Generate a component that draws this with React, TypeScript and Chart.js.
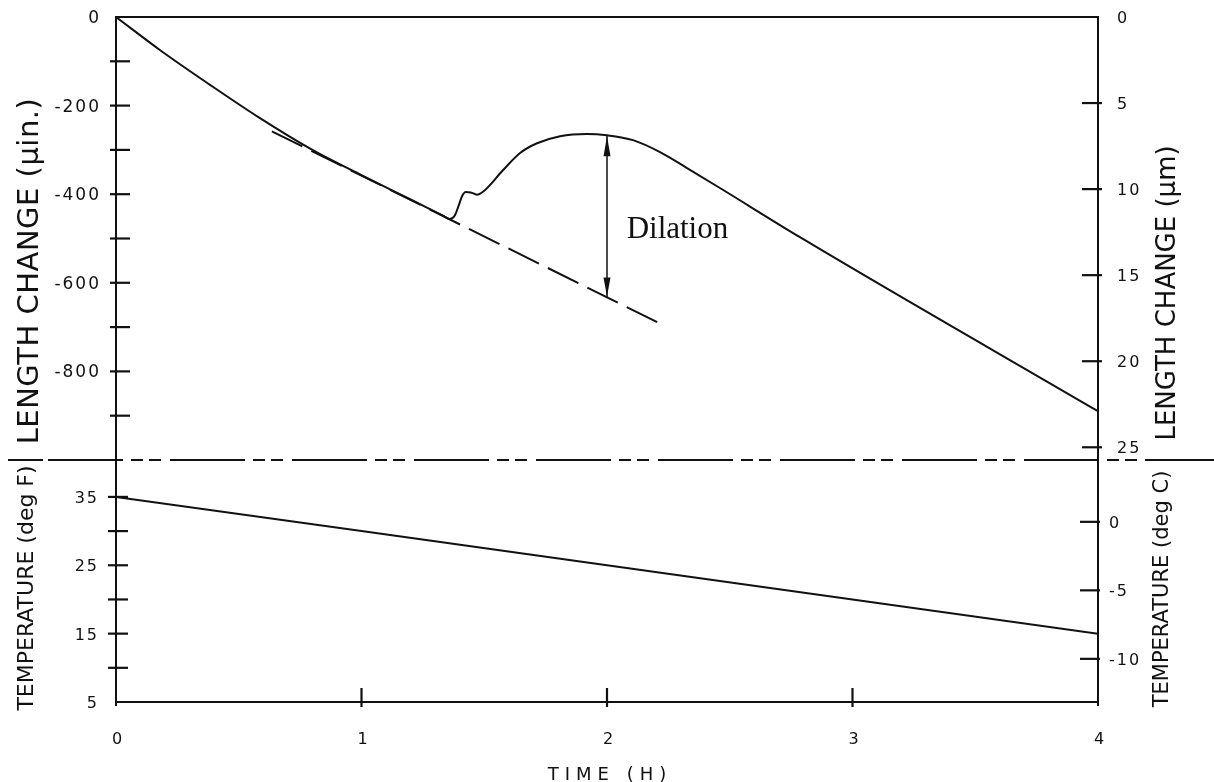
import React, { useEffect, useRef } from "react";
import { Chart, registerables } from "chart.js";

Chart.register(...registerables);

// ---- data ----
const TIME_H = [0, 0.18, 0.38, 0.58, 0.8, 1.0, 1.2, 1.33, 1.36, 1.38, 1.395, 1.41, 1.425, 1.445, 1.47, 1.5, 1.576, 1.646, 1.715, 1.809, 1.919, 2.0, 2.106, 2.216, 2.326, 2.46, 2.786, 4.0];
const LENGTH_UIN = [0, -75, -152, -226, -300, -357, -412, -448, -456, -448, -427, -404, -395, -396, -401, -392, -346, -307, -285, -269, -264, -267, -278, -305, -341, -386, -497, -890];

const TANGENT_TIME_H = [0.635, 2.216];
const TANGENT_UIN = [-258, -692];

const DILATION_TIME_H = [2.0, 2.0];
const DILATION_UIN = [-267, -633];
const DILATION_LABEL = "Dilation";
const DILATION_LABEL_T = 2.08;
const DILATION_LABEL_UIN = -499;

const TEMP_TIME_H = [0, 1, 2, 3, 4];
const TEMP_F = [35, 30, 25, 20, 15];

// ---- axes / ticks ----
const X_TICK_LABELS = [0, 1, 2, 3, 4];
const X_TICK_MARKS = [1, 2, 3];
const LEN_TICK_MARKS = [-100, -200, -300, -400, -500, -600, -700, -800, -900];
const LEN_TICK_LABELS = [0, -200, -400, -600, -800];
const UM_TICK_MARKS = [5, 10, 15, 20, 25];
const UM_TICK_LABELS = [0, 5, 10, 15, 20, 25];
const F_TICK_MARKS = [35, 30, 25, 20, 15, 10];
const F_TICK_LABELS = [35, 25, 15, 5];
const C_TICK_MARKS = [0, -5, -10];
const C_TICK_LABELS = [0, -5, -10];

const LEN_PANEL_BOTTOM = -1000; // µin. value at the panel divider
const PANEL_SPLIT = 0.6467; // share of plot height used by the length panel

const TITLE_LEN_LEFT = "LENGTH CHANGE (µin.)";
const TITLE_LEN_RIGHT = "LENGTH CHANGE (µm)";
const TITLE_T_LEFT = "TEMPERATURE (deg F)";
const TITLE_T_RIGHT = "TEMPERATURE (deg C)";
const TITLE_X = "TIME (H)";

const INK = "#111";
const SANS = '"DejaVu Sans", "Liberation Sans", sans-serif';
const SERIF = '"Liberation Serif", "DejaVu Serif", serif';

function pts(xs: number[], ys: number[]) {
  return xs.map((x, i) => ({ x, y: ys[i] }));
}

const paperPlugin = {
  id: "paper",
  afterDraw(chart: any) {
    const { ctx, chartArea: a, scales } = chart;
    const sx = scales.x, yL = scales.yLen, yU = scales.yUm, yF = scales.yF, yC = scales.yC;
    const line = (x1: number, y1: number, x2: number, y2: number) => {
      ctx.beginPath();
      ctx.moveTo(x1, y1);
      ctx.lineTo(x2, y2);
      ctx.stroke();
    };
    const text = (s: string, x: number, y: number, font: string, align: CanvasTextAlign, ls = 0) => {
      ctx.font = font;
      (ctx as any).letterSpacing = ls + "px";
      ctx.textAlign = align;
      ctx.textBaseline = "alphabetic";
      ctx.fillText(s, x, y);
      (ctx as any).letterSpacing = "0px";
    };
    const vtext = (s: string, x: number, y: number, font: string, ls = 0) => {
      ctx.save();
      ctx.translate(x, y);
      ctx.rotate(-Math.PI / 2);
      text(s, 0, 0, font, "center", ls);
      ctx.restore();
    };

    ctx.save();
    ctx.strokeStyle = INK;
    ctx.fillStyle = INK;
    ctx.lineCap = "butt";

    // frame
    ctx.lineWidth = 2;
    line(a.left, a.top, a.right, a.top);
    line(a.left, a.top - 1, a.left, a.bottom + 4);
    line(a.right, a.top - 1, a.right, a.bottom + 4);
    line(a.left - 1, a.bottom, a.right + 1, a.bottom);

    // panel divider (dash-dot-dot)
    const yd = yL.getPixelForValue(LEN_PANEL_BOTTOM);
    ctx.lineWidth = 2;
    line(8, yd, 43, yd);
    ctx.setLineDash([75, 8, 12, 6, 12, 9]);
    line(48, yd, 1140, yd);
    ctx.setLineDash([]);
    line(1145, yd, chart.width, yd);

    // tick marks
    ctx.lineWidth = 2.2;
    LEN_TICK_MARKS.forEach((v) => {
      const y = yL.getPixelForValue(v);
      line(a.left - 6, y, a.left + 14, y);
    });
    F_TICK_MARKS.forEach((v) => {
      const y = yF.getPixelForValue(v);
      line(a.left - 8, y, a.left + 12, y);
    });
    UM_TICK_MARKS.forEach((v) => {
      const y = yU.getPixelForValue(v);
      line(a.right - 16, y, a.right + 4, y);
    });
    C_TICK_MARKS.forEach((v) => {
      const y = yC.getPixelForValue(v);
      line(a.right - 18, y, a.right + 2, y);
    });
    X_TICK_MARKS.forEach((v) => {
      const x = sx.getPixelForValue(v);
      line(x, a.bottom - 14, x, a.bottom + 5);
    });

    // tick labels
    const f17 = "17px " + SANS;
    const f16 = "16px " + SANS;
    LEN_TICK_LABELS.forEach((v) => {
      text(String(v), a.left - 15, yL.getPixelForValue(v) + 6, f17, "right", 2);
    });
    F_TICK_LABELS.forEach((v) => {
      text(String(v), a.left - 17, yF.getPixelForValue(v) + 6, f16, "right", 2);
    });
    UM_TICK_LABELS.forEach((v) => {
      text(String(v), a.right + 19, yU.getPixelForValue(v) + 6, f16, "left", 2);
    });
    C_TICK_LABELS.forEach((v) => {
      text(String(v), a.right + 11, yC.getPixelForValue(v) + 6, f16, "left", 2);
    });
    X_TICK_LABELS.forEach((v) => {
      text(String(v), sx.getPixelForValue(v) + 1, a.bottom + 42, f16, "center", 0);
    });

    // axis titles
    vtext(TITLE_LEN_LEFT, 38, 271, "29px " + SANS, 0.5);
    vtext(TITLE_T_LEFT, 33, 588, "22px " + SANS, 0);
    vtext(TITLE_LEN_RIGHT, 1175, 293, "26px " + SANS, 0);
    vtext(TITLE_T_RIGHT, 1168, 589, "21px " + SANS, 0);
    text(TITLE_X, (a.left + a.right) / 2 + 3, 780, "18px " + SANS, "center", 6);

    // dilation annotation
    text(DILATION_LABEL, sx.getPixelForValue(DILATION_LABEL_T), yL.getPixelForValue(DILATION_LABEL_UIN), "31px " + SERIF, "left", 0);
    const ax = sx.getPixelForValue(DILATION_TIME_H[0]);
    const yTop = yL.getPixelForValue(DILATION_UIN[0]);
    const yBot = yL.getPixelForValue(DILATION_UIN[1]);
    ctx.beginPath();
    ctx.moveTo(ax, yTop + 1);
    ctx.lineTo(ax - 3.5, yTop + 21);
    ctx.lineTo(ax + 3.5, yTop + 21);
    ctx.closePath();
    ctx.fill();
    ctx.beginPath();
    ctx.moveTo(ax, yBot - 1);
    ctx.lineTo(ax - 3.5, yBot - 20);
    ctx.lineTo(ax + 3.5, yBot - 20);
    ctx.closePath();
    ctx.fill();

    ctx.restore();
  },
};

export default function App() {
  const ref = useRef<HTMLCanvasElement>(null);

  useEffect(() => {
    document.body.style.margin = "0";
    document.body.style.overflow = "hidden";
    const canvas = ref.current;
    if (!canvas) return;
    const chart = new Chart(canvas, {
      type: "line",
      data: {
        datasets: [
          {
            label: "Length change",
            data: pts(TIME_H, LENGTH_UIN),
            yAxisID: "yLen",
            borderColor: INK,
            borderWidth: 2,
            pointRadius: 0,
            cubicInterpolationMode: "monotone",
            borderCapStyle: "round",
            borderJoinStyle: "round",
          },
          {
            label: "Extrapolated contraction",
            data: pts(TANGENT_TIME_H, TANGENT_UIN),
            yAxisID: "yLen",
            borderColor: INK,
            borderWidth: 2,
            borderDash: [34, 10],
            pointRadius: 0,
            tension: 0,
          },
          {
            label: "Dilation",
            data: pts(DILATION_TIME_H, DILATION_UIN),
            yAxisID: "yLen",
            borderColor: INK,
            borderWidth: 1.5,
            pointRadius: 0,
            tension: 0,
          },
          {
            label: "Temperature",
            data: pts(TEMP_TIME_H, TEMP_F),
            yAxisID: "yF",
            borderColor: INK,
            borderWidth: 2,
            pointRadius: 0,
            tension: 0,
          },
        ],
      },
      options: {
        responsive: false,
        animation: false,
        devicePixelRatio: 1,
        parsing: false,
        layout: { padding: { left: 116, right: 116, top: 17, bottom: 80 } },
        plugins: { legend: { display: false }, tooltip: { enabled: false } },
        events: [],
        scales: {
          x: { type: "linear", min: 0, max: 4, display: false },
          yLen: { type: "linear", position: "left", min: LEN_PANEL_BOTTOM / PANEL_SPLIT, max: 0, display: false },
          yF: { type: "linear", position: "left", min: 5, max: 105.2, display: false },
          yUm: { type: "linear", position: "right", reverse: true, min: 0, max: 39.8, display: false },
          yC: { type: "linear", position: "right", min: -13.15, max: 36.85, display: false },
        },
      },
      plugins: [paperPlugin],
    } as any);
    return () => chart.destroy();
  }, []);

  return (
    <canvas
      ref={ref}
      width={1214}
      height={782}
      style={{ display: "block", width: "1214px", height: "782px", background: "#fff" }}
    />
  );
}
